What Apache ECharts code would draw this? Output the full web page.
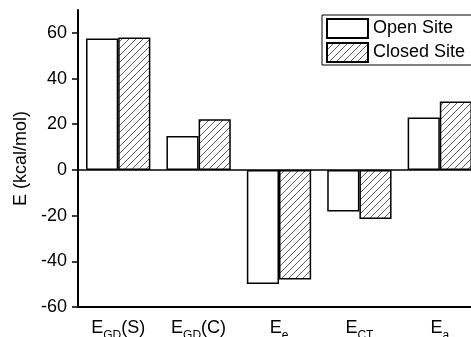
<!DOCTYPE html>
<html>
<head>
<meta charset="utf-8">
<script src="https://cdn.jsdelivr.net/npm/echarts@6/dist/echarts.min.js"></script>
<style>
html,body{margin:0;padding:0;background:#fff;}
#c{width:471px;height:337px;}
</style>
</head>
<body>
<div id="c"></div>
<script>
var categories = ['{n|E}{s|GD}{n|(S)}', '{n|E}{s|GD}{n|(C)}', '{n|E}{s|e}', '{n|E}{s|CT}', '{n|E}{s|a}'];
var openSite = [57.5, 14.8, -49.9, -18.2, 23.0];
var closedSite = [58.0, 22.2, -48.0, -21.5, 30.0];
var yTicks = [-60, -40, -20, 0, 20, 40, 60];

function hatch() {
  var s = 7;
  var cv = document.createElement('canvas');
  cv.width = s; cv.height = s;
  var ctx = cv.getContext('2d');
  ctx.fillStyle = '#fff';
  ctx.fillRect(0, 0, s, s);
  ctx.strokeStyle = '#333';
  ctx.lineWidth = 0.8;
  ctx.beginPath();
  ctx.moveTo(-1, s + 1); ctx.lineTo(s + 1, -1);
  ctx.moveTo(-1, 1); ctx.lineTo(1, -1);
  ctx.moveTo(s - 1, s + 1); ctx.lineTo(s + 1, s - 1);
  ctx.stroke();
  return cv;
}

var chart = echarts.init(document.getElementById('c'), null, {renderer: 'canvas'});
var font = 'Liberation Sans, Arial, sans-serif';
chart.setOption({
  animation: false,
  textStyle: {fontFamily: font, color: '#000'},
  grid: {left: 78, top: 10, width: 402, height: 297, containLabel: false, outerBoundsMode: 'none'},
  legend: {
    orient: 'vertical', left: 322, top: 15,
    icon: 'rect', itemWidth: 41, itemHeight: 19, itemGap: 3,
    padding: [3, 40, 2, 4],
    borderColor: '#000', borderWidth: 1,
    textStyle: {fontSize: 18, color: '#000', fontFamily: font},
    data: ['Open Site', 'Closed Site']
  },
  xAxis: {
    type: 'category', data: categories,
    axisLine: {onZero: false, lineStyle: {color: '#000', width: 2}},
    axisTick: {alignWithLabel: true, length: 4, lineStyle: {color: '#000', width: 1.5}},
    axisLabel: {
      margin: 12, interval: 0,
      rich: {
        n: {fontSize: 18, fontFamily: font, color: '#000', verticalAlign: 'top'},
        s: {fontSize: 12, fontFamily: font, color: '#000', verticalAlign: 'top', padding: [11, 0, 0, 0]}
      }
    }
  },
  yAxis: {
    type: 'value', min: -60, max: 70, interval: 20,
    name: 'E (kcal/mol)', nameLocation: 'middle', nameGap: 43,
    nameTextStyle: {fontSize: 18, color: '#000', fontFamily: font},
    axisLine: {show: true, lineStyle: {color: '#000', width: 2}},
    axisTick: {show: true, length: 6, customValues: yTicks, lineStyle: {color: '#000', width: 1.5}},
    axisLabel: {fontSize: 18, color: '#000', margin: 11, customValues: yTicks, fontFamily: font},
    splitLine: {show: false}
  },
  series: [
    {
      name: 'Open Site', type: 'bar', data: openSite,
      barWidth: '40%', barGap: '0%',
      itemStyle: {color: '#fff', borderColor: '#000', borderWidth: 1.5},
      markLine: {
        silent: true, symbol: 'none', label: {show: false},
        lineStyle: {color: '#000', width: 1.5, type: 'solid'},
        data: [{yAxis: 0}]
      }
    },
    {
      name: 'Closed Site', type: 'bar', data: closedSite,
      barWidth: '40%', barGap: '0%',
      itemStyle: {color: {image: hatch(), repeat: 'repeat'}, borderColor: '#000', borderWidth: 1.5}
    }
  ]
});
</script>
</body>
</html>
